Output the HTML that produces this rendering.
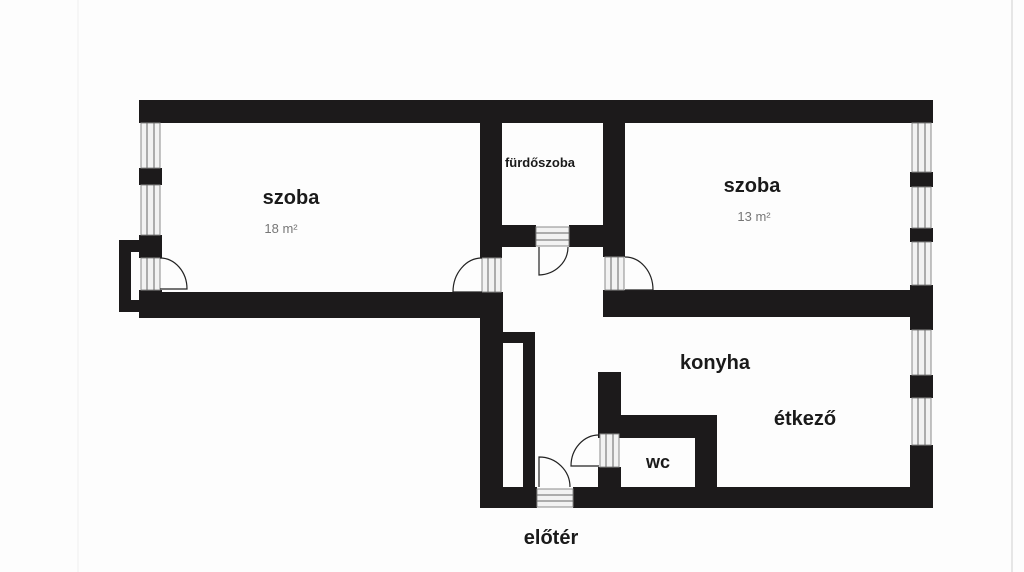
<!DOCTYPE html>
<html><head><meta charset="utf-8"><style>
body{margin:0;background:#fff;}
svg{display:block}
text{font-family:"Liberation Sans",sans-serif;font-weight:bold;fill:#1a1a1a}
</style></head><body>
<svg width="1024" height="572" viewBox="0 0 1024 572" xmlns="http://www.w3.org/2000/svg">
<rect width="1024" height="572" fill="#fdfdfd"/>
<line x1="1012" y1="0" x2="1012" y2="572" stroke="#e6e6e6" stroke-width="2"/>
<line x1="78" y1="0" x2="78" y2="572" stroke="#f0f0f0" stroke-width="1"/>
<g fill="#1c1a1b">
<!-- top wall -->
<rect x="139" y="100" width="794" height="23"/>
<!-- left wall segments -->
<rect x="139" y="168" width="23" height="17"/>
<rect x="139" y="235" width="23" height="23"/>
<rect x="139" y="290" width="23" height="28"/>
<!-- bump -->
<path d="M119 240 H139 V312 H119 Z M131 252 V300 H139 V252 Z" fill-rule="evenodd"/>
<!-- left room bottom -->
<rect x="139" y="292" width="363" height="26"/>
<!-- center wall -->
<rect x="480" y="100" width="22" height="158"/>
<rect x="480" y="292" width="23" height="216"/>
<!-- bathroom right wall -->
<rect x="603" y="100" width="22" height="157"/>
<rect x="603" y="290" width="22" height="27"/>
<!-- bathroom bottom -->
<rect x="502" y="225" width="34" height="22"/>
<rect x="569" y="225" width="34" height="22"/>
<!-- right room bottom -->
<rect x="603" y="290" width="330" height="27"/>
<!-- right wall -->
<rect x="910" y="100" width="23" height="23"/>
<rect x="910" y="172" width="23" height="15"/>
<rect x="910" y="228" width="23" height="14"/>
<rect x="910" y="285" width="23" height="45"/>
<rect x="910" y="375" width="23" height="23"/>
<rect x="910" y="445" width="23" height="63"/>
<!-- bottom wall -->
<rect x="480" y="487" width="57" height="21"/>
<rect x="573" y="487" width="360" height="21"/>
<!-- closet -->
<rect x="503" y="332" width="32" height="11"/>
<rect x="523" y="332" width="12" height="155"/>
<!-- kitchen inner wall -->
<rect x="598" y="372" width="23" height="62"/>
<rect x="598" y="467" width="23" height="20"/>
<rect x="598" y="415" width="119" height="23"/>
<rect x="695" y="415" width="22" height="72"/>
</g>
<!-- windows / frames -->
<g fill="#f2f2f2" stroke="#8a8a8a" stroke-width="1">
<rect x="141" y="123" width="19" height="45"/>
<rect x="141" y="185" width="19" height="50"/>
<rect x="141" y="258" width="19" height="32"/>
<rect x="482" y="258" width="19" height="34"/>
<rect x="605" y="257" width="19" height="33"/>
<rect x="912" y="123" width="19" height="49"/>
<rect x="912" y="187" width="19" height="41"/>
<rect x="912" y="242" width="19" height="43"/>
<rect x="912" y="330" width="19" height="45"/>
<rect x="912" y="398" width="19" height="47"/>
<rect x="600" y="434" width="19" height="33"/>
<rect x="536" y="227" width="33" height="19"/>
<rect x="537" y="489" width="36" height="18"/>
</g>
<g stroke="#666" stroke-width="1">
<line x1="147" y1="123" x2="147" y2="168"/><line x1="154" y1="123" x2="154" y2="168"/>
<line x1="147" y1="185" x2="147" y2="235"/><line x1="154" y1="185" x2="154" y2="235"/>
<line x1="147" y1="258" x2="147" y2="290"/><line x1="154" y1="258" x2="154" y2="290"/>
<line x1="488" y1="258" x2="488" y2="292"/><line x1="495" y1="258" x2="495" y2="292"/>
<line x1="611" y1="257" x2="611" y2="290"/><line x1="618" y1="257" x2="618" y2="290"/>
<line x1="918" y1="123" x2="918" y2="172"/><line x1="925" y1="123" x2="925" y2="172"/>
<line x1="918" y1="187" x2="918" y2="228"/><line x1="925" y1="187" x2="925" y2="228"/>
<line x1="918" y1="242" x2="918" y2="285"/><line x1="925" y1="242" x2="925" y2="285"/>
<line x1="918" y1="330" x2="918" y2="375"/><line x1="925" y1="330" x2="925" y2="375"/>
<line x1="918" y1="398" x2="918" y2="445"/><line x1="925" y1="398" x2="925" y2="445"/>
<line x1="606" y1="434" x2="606" y2="467"/><line x1="613" y1="434" x2="613" y2="467"/>
<line x1="536" y1="233" x2="569" y2="233"/><line x1="536" y1="240" x2="569" y2="240"/>
<line x1="537" y1="495" x2="573" y2="495"/><line x1="537" y1="501" x2="573" y2="501"/>
</g>
<!-- door swings -->
<g fill="none" stroke="#222" stroke-width="1.2">
<path d="M160 258 H162 M160 289 H187 A27 31 0 0 0 160 258"/>
<path d="M482 292 H453 A29 34 0 0 1 482 258"/>
<path d="M625 290 H653 A28 33 0 0 0 625 257"/>
<path d="M539 247 V275 A30 28 0 0 0 568 247"/>
<path d="M539 487 V457 A31 30 0 0 1 570 487"/>
<path d="M599 466 H571 A28 31 0 0 1 599 435"/>
</g>
<text x="291" y="204" font-size="20" text-anchor="middle">szoba</text>
<text x="281" y="233" font-size="13" text-anchor="middle" fill="#777" style="font-weight:normal;fill:#777">18 m²</text>
<text x="540" y="167" font-size="13" text-anchor="middle">fürdőszoba</text>
<text x="752" y="192" font-size="20" text-anchor="middle">szoba</text>
<text x="754" y="221" font-size="13" text-anchor="middle" style="font-weight:normal;fill:#777">13 m²</text>
<text x="715" y="369" font-size="20" text-anchor="middle">konyha</text>
<text x="805" y="425" font-size="20" text-anchor="middle">étkező</text>
<text x="658" y="468" font-size="18" text-anchor="middle">wc</text>
<text x="551" y="544" font-size="20" text-anchor="middle">előtér</text>
</svg>
</body></html>
